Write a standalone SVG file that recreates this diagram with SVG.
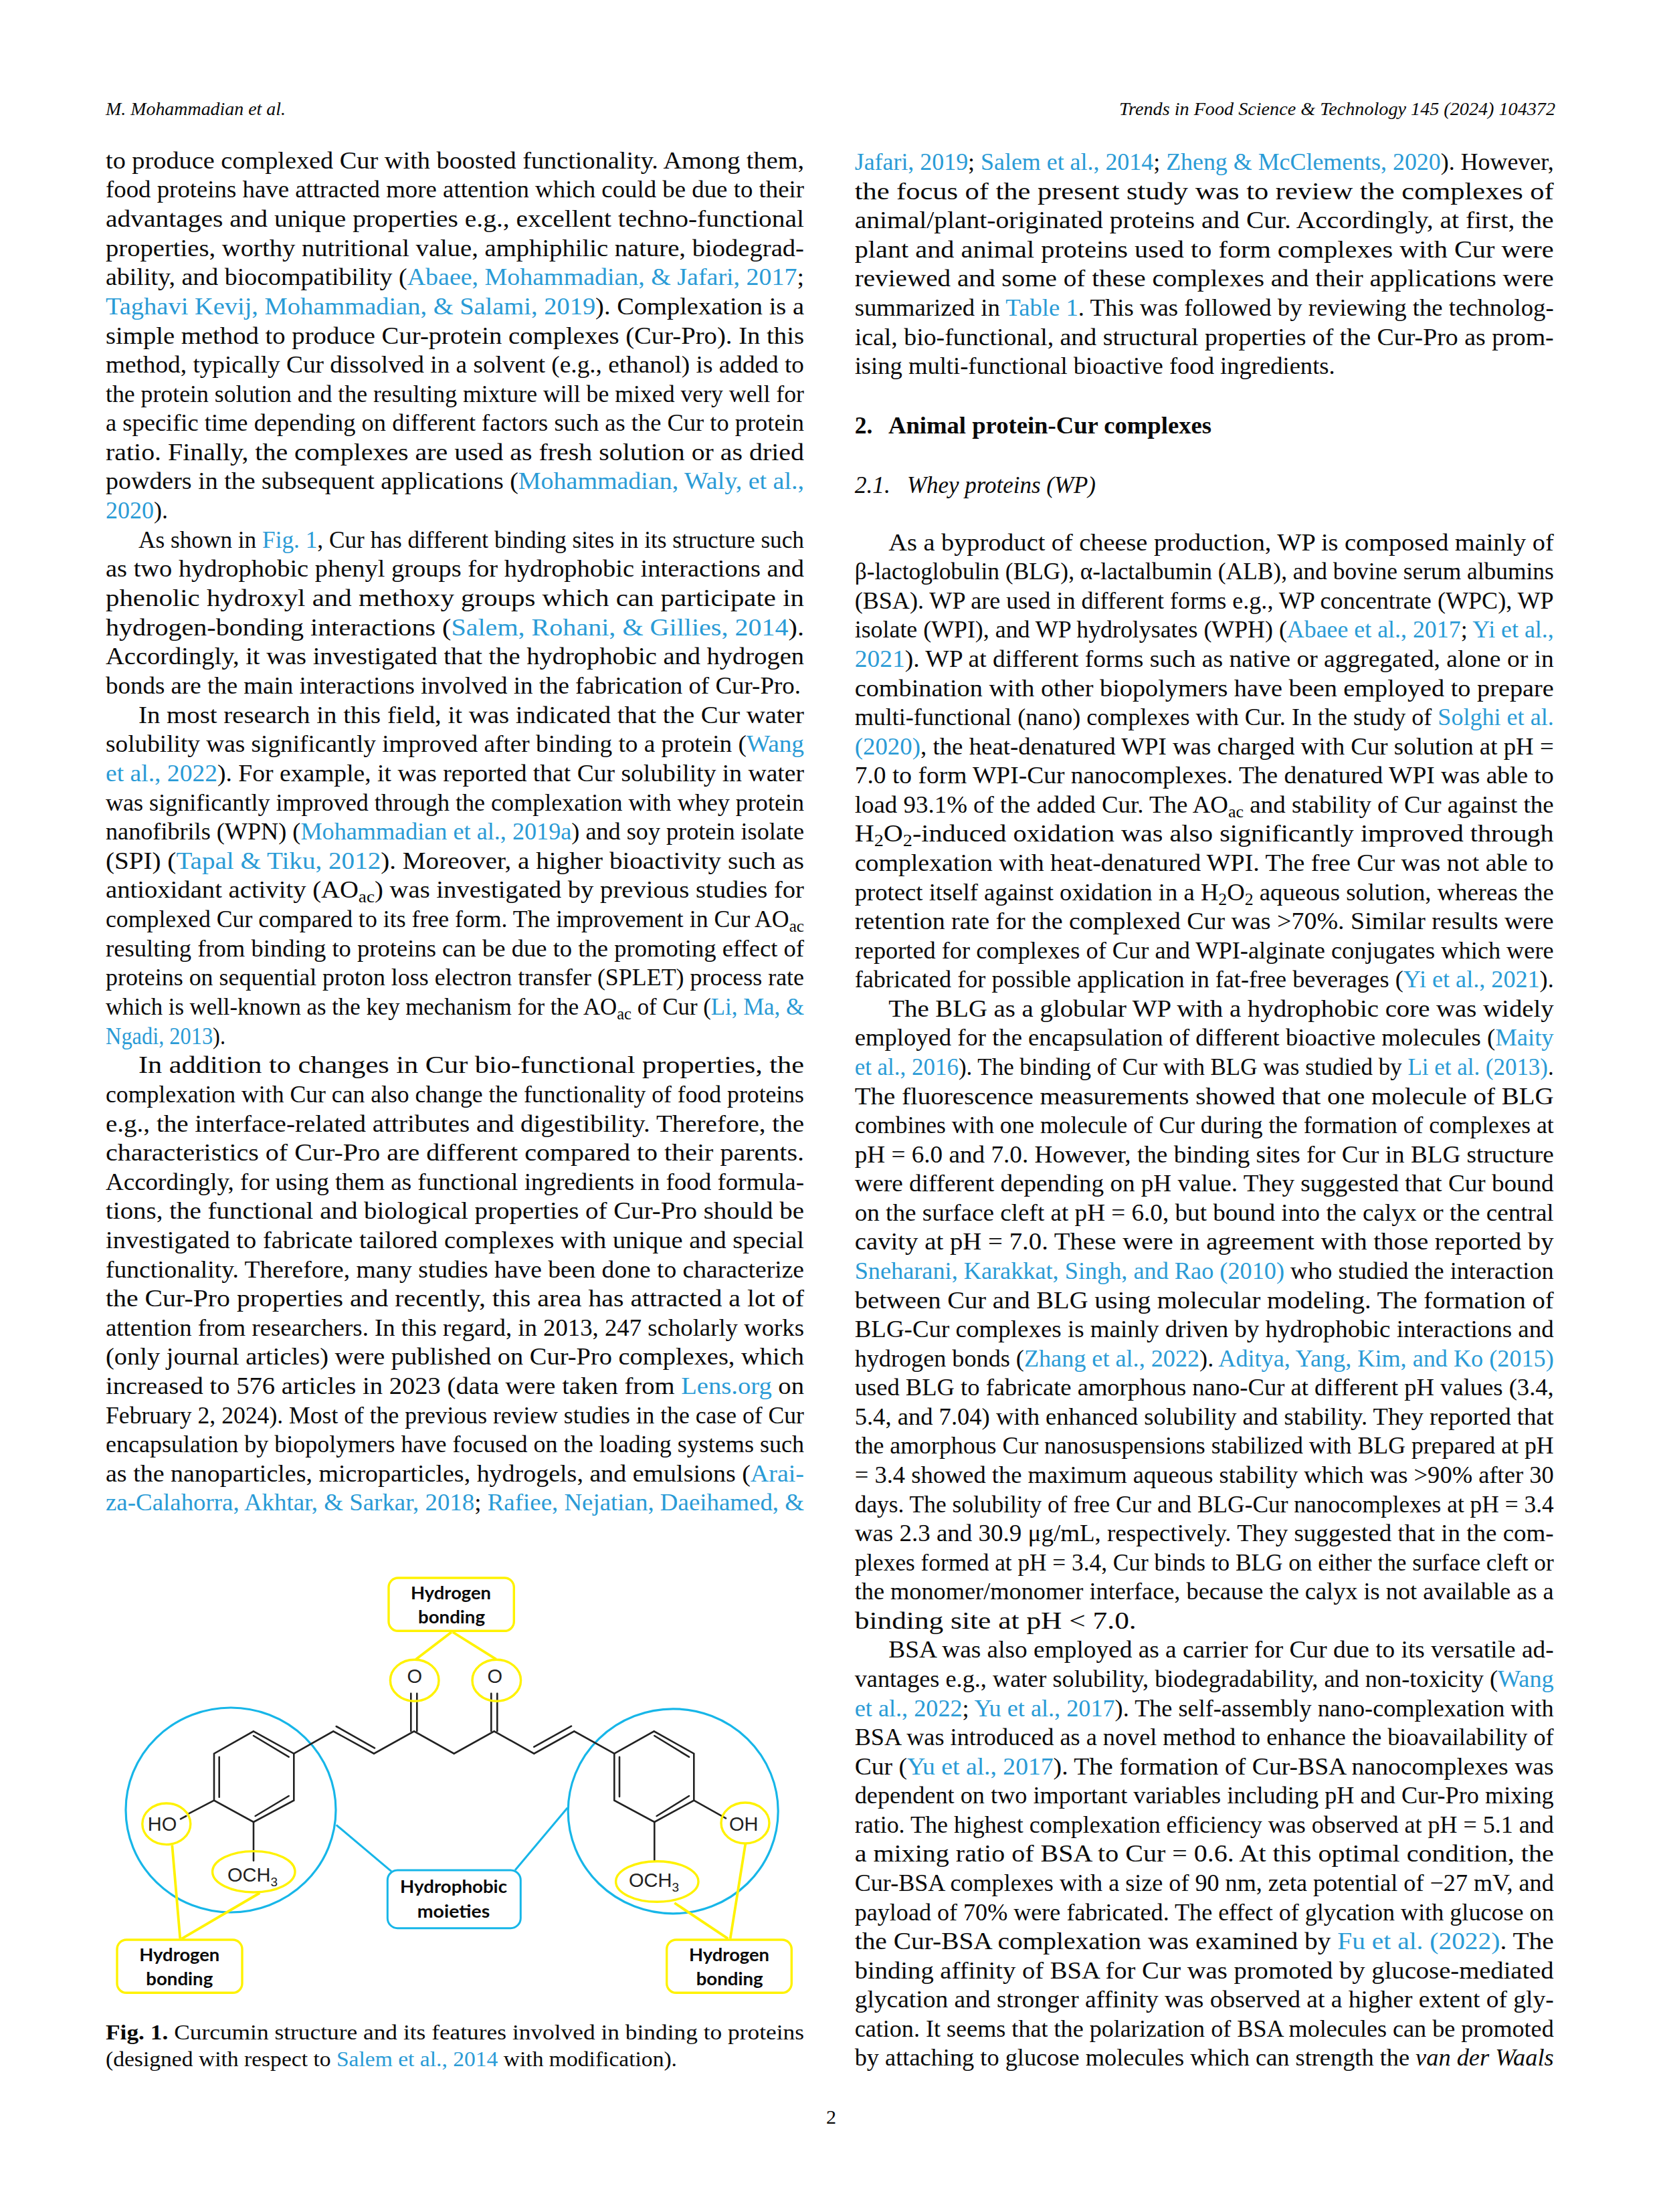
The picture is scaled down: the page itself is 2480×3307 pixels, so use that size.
<svg xmlns="http://www.w3.org/2000/svg" width="2480" height="3307" viewBox="0 0 2480 3307">
<style>
text{font-family:"Liberation Serif",serif;fill:#0a0a0a}
.b{font-size:35.5px}
.c{font-size:32.5px}
.h{font-size:27.5px;font-style:italic}
.l{fill:#2a9bd6}
.s{font-size:25px;baseline-shift:-7px}
.bond{stroke:#222;stroke-width:2.6;fill:none;stroke-linecap:round}
.blue{stroke:#17b6e8;stroke-width:3.2;fill:none}
.yel{stroke:#fff200;stroke-width:3.4;fill:none}
.ylink{stroke:#fff200;stroke-width:3.8;fill:none}
.blink{stroke:#17b6e8;stroke-width:3;fill:none}
.chem{font-family:"Liberation Sans",sans-serif;font-size:29px;fill:#222}
.chem3{font-family:"Liberation Sans",sans-serif;font-size:19px;fill:#222}
.lab{font-family:Lato,"Liberation Sans",sans-serif;font-size:27px;font-weight:700;fill:#0a0a0a}
</style>
<rect width="2480" height="3307" fill="#fff"/>
<g id="page-header">
<text class="h" x="158" y="172" textLength="269" lengthAdjust="spacingAndGlyphs">M. Mohammadian et al.</text>
<text class="h" x="1673" y="172" textLength="652" lengthAdjust="spacingAndGlyphs">Trends in Food Science &amp; Technology 145 (2024) 104372</text>
</g>
<g id="left-column" class="b">
<text x="158" y="251.7" textLength="1044" lengthAdjust="spacingAndGlyphs">to produce complexed Cur with boosted functionality. Among them,</text>
<text x="158" y="295.3" textLength="1044" lengthAdjust="spacingAndGlyphs">food proteins have attracted more attention which could be due to their</text>
<text x="158" y="339" textLength="1044" lengthAdjust="spacingAndGlyphs">advantages and unique properties e.g., excellent techno-functional</text>
<text x="158" y="382.6" textLength="1044" lengthAdjust="spacingAndGlyphs">properties, worthy nutritional value, amphiphilic nature, biodegrad-</text>
<text x="158" y="426.3" textLength="1044" lengthAdjust="spacingAndGlyphs">ability, and biocompatibility (<tspan class="l">Abaee, Mohammadian, &amp; Jafari, 2017</tspan>;</text>
<text x="158" y="469.9" textLength="1044" lengthAdjust="spacingAndGlyphs"><tspan class="l">Taghavi Kevij, Mohammadian, &amp; Salami, 2019</tspan>). Complexation is a</text>
<text x="158" y="513.5" textLength="1044" lengthAdjust="spacingAndGlyphs">simple method to produce Cur-protein complexes (Cur-Pro). In this</text>
<text x="158" y="557.2" textLength="1044" lengthAdjust="spacingAndGlyphs">method, typically Cur dissolved in a solvent (e.g., ethanol) is added to</text>
<text x="158" y="600.5" textLength="1044" lengthAdjust="spacingAndGlyphs">the protein solution and the resulting mixture will be mixed very well for</text>
<text x="158" y="644.2" textLength="1044" lengthAdjust="spacingAndGlyphs">a specific time depending on different factors such as the Cur to protein</text>
<text x="158" y="687.8" textLength="1044" lengthAdjust="spacingAndGlyphs">ratio. Finally, the complexes are used as fresh solution or as dried</text>
<text x="158" y="731.4" textLength="1044" lengthAdjust="spacingAndGlyphs">powders in the subsequent applications (<tspan class="l">Mohammadian, Waly, et al.,</tspan></text>
<text x="158" y="775.1" textLength="93" lengthAdjust="spacingAndGlyphs"><tspan class="l">2020</tspan>).</text>
<text x="207" y="818.7" textLength="995" lengthAdjust="spacingAndGlyphs">As shown in <tspan class="l">Fig. 1</tspan>, Cur has different binding sites in its structure such</text>
<text x="158" y="862.4" textLength="1044" lengthAdjust="spacingAndGlyphs">as two hydrophobic phenyl groups for hydrophobic interactions and</text>
<text x="158" y="906" textLength="1044" lengthAdjust="spacingAndGlyphs">phenolic hydroxyl and methoxy groups which can participate in</text>
<text x="158" y="949.6" textLength="1044" lengthAdjust="spacingAndGlyphs">hydrogen-bonding interactions (<tspan class="l">Salem, Rohani, &amp; Gillies, 2014</tspan>).</text>
<text x="158" y="993.3" textLength="1044" lengthAdjust="spacingAndGlyphs">Accordingly, it was investigated that the hydrophobic and hydrogen</text>
<text x="158" y="1036.9" textLength="1039" lengthAdjust="spacingAndGlyphs">bonds are the main interactions involved in the fabrication of Cur-Pro.</text>
<text x="207" y="1080.6" textLength="995" lengthAdjust="spacingAndGlyphs">In most research in this field, it was indicated that the Cur water</text>
<text x="158" y="1124.2" textLength="1044" lengthAdjust="spacingAndGlyphs">solubility was significantly improved after binding to a protein (<tspan class="l">Wang</tspan></text>
<text x="158" y="1167.8" textLength="1044" lengthAdjust="spacingAndGlyphs"><tspan class="l">et al., 2022</tspan>). For example, it was reported that Cur solubility in water</text>
<text x="158" y="1211.5" textLength="1044" lengthAdjust="spacingAndGlyphs">was significantly improved through the complexation with whey protein</text>
<text x="158" y="1255.1" textLength="1044" lengthAdjust="spacingAndGlyphs">nanofibrils (WPN) (<tspan class="l">Mohammadian et al., 2019a</tspan>) and soy protein isolate</text>
<text x="158" y="1298.8" textLength="1044" lengthAdjust="spacingAndGlyphs">(SPI) (<tspan class="l">Tapal &amp; Tiku, 2012</tspan>). Moreover, a higher bioactivity such as</text>
<text x="158" y="1342.4" textLength="1044" lengthAdjust="spacingAndGlyphs">antioxidant activity (AO<tspan class="s">ac</tspan>) was investigated by previous studies for</text>
<text x="158" y="1386" textLength="1044" lengthAdjust="spacingAndGlyphs">complexed Cur compared to its free form. The improvement in Cur AO<tspan class="s">ac</tspan></text>
<text x="158" y="1429.7" textLength="1044" lengthAdjust="spacingAndGlyphs">resulting from binding to proteins can be due to the promoting effect of</text>
<text x="158" y="1473.3" textLength="1044" lengthAdjust="spacingAndGlyphs">proteins on sequential proton loss electron transfer (SPLET) process rate</text>
<text x="158" y="1517" textLength="1044" lengthAdjust="spacingAndGlyphs">which is well-known as the key mechanism for the AO<tspan class="s">ac</tspan> of Cur (<tspan class="l">Li, Ma, &amp;</tspan></text>
<text x="158" y="1560.6" textLength="179" lengthAdjust="spacingAndGlyphs"><tspan class="l">Ngadi, 2013</tspan>).</text>
<text x="207" y="1604.2" textLength="995" lengthAdjust="spacingAndGlyphs">In addition to changes in Cur bio-functional properties, the</text>
<text x="158" y="1647.9" textLength="1044" lengthAdjust="spacingAndGlyphs">complexation with Cur can also change the functionality of food proteins</text>
<text x="158" y="1691.5" textLength="1044" lengthAdjust="spacingAndGlyphs">e.g., the interface-related attributes and digestibility. Therefore, the</text>
<text x="158" y="1735.2" textLength="1044" lengthAdjust="spacingAndGlyphs">characteristics of Cur-Pro are different compared to their parents.</text>
<text x="158" y="1778.8" textLength="1044" lengthAdjust="spacingAndGlyphs">Accordingly, for using them as functional ingredients in food formula-</text>
<text x="158" y="1822.4" textLength="1044" lengthAdjust="spacingAndGlyphs">tions, the functional and biological properties of Cur-Pro should be</text>
<text x="158" y="1866.1" textLength="1044" lengthAdjust="spacingAndGlyphs">investigated to fabricate tailored complexes with unique and special</text>
<text x="158" y="1909.7" textLength="1044" lengthAdjust="spacingAndGlyphs">functionality. Therefore, many studies have been done to characterize</text>
<text x="158" y="1953.4" textLength="1044" lengthAdjust="spacingAndGlyphs">the Cur-Pro properties and recently, this area has attracted a lot of</text>
<text x="158" y="1997" textLength="1044" lengthAdjust="spacingAndGlyphs">attention from researchers. In this regard, in 2013, 247 scholarly works</text>
<text x="158" y="2040.2" textLength="1044" lengthAdjust="spacingAndGlyphs">(only journal articles) were published on Cur-Pro complexes, which</text>
<text x="158" y="2083.9" textLength="1044" lengthAdjust="spacingAndGlyphs">increased to 576 articles in 2023 (data were taken from <tspan class="l">Lens.org</tspan> on</text>
<text x="158" y="2127.6" textLength="1044" lengthAdjust="spacingAndGlyphs">February 2, 2024). Most of the previous review studies in the case of Cur</text>
<text x="158" y="2171.2" textLength="1044" lengthAdjust="spacingAndGlyphs">encapsulation by biopolymers have focused on the loading systems such</text>
<text x="158" y="2214.9" textLength="1044" lengthAdjust="spacingAndGlyphs">as the nanoparticles, microparticles, hydrogels, and emulsions (<tspan class="l">Arai-</tspan></text>
<text x="158" y="2258.4" textLength="1044" lengthAdjust="spacingAndGlyphs"><tspan class="l">za-Calahorra, Akhtar, &amp; Sarkar, 2018</tspan>; <tspan class="l">Rafiee, Nejatian, Daeihamed, &amp;</tspan></text>
</g>
<g id="right-column" class="b">
<text x="1277.7" y="254" textLength="1045" lengthAdjust="spacingAndGlyphs"><tspan class="l">Jafari, 2019</tspan>; <tspan class="l">Salem et al., 2014</tspan>; <tspan class="l">Zheng &amp; McClements, 2020</tspan>). However,</text>
<text x="1277.7" y="297.6" textLength="1045" lengthAdjust="spacingAndGlyphs">the focus of the present study was to review the complexes of</text>
<text x="1277.7" y="341.2" textLength="1045" lengthAdjust="spacingAndGlyphs">animal/plant-originated proteins and Cur. Accordingly, at first, the</text>
<text x="1277.7" y="384.8" textLength="1045" lengthAdjust="spacingAndGlyphs">plant and animal proteins used to form complexes with Cur were</text>
<text x="1277.7" y="428.4" textLength="1045" lengthAdjust="spacingAndGlyphs">reviewed and some of these complexes and their applications were</text>
<text x="1277.7" y="472" textLength="1045" lengthAdjust="spacingAndGlyphs">summarized in <tspan class="l">Table 1</tspan>. This was followed by reviewing the technolog-</text>
<text x="1277.7" y="515.6" textLength="1045" lengthAdjust="spacingAndGlyphs">ical, bio-functional, and structural properties of the Cur-Pro as prom-</text>
<text x="1277.7" y="559.3" textLength="718" lengthAdjust="spacingAndGlyphs">ising multi-functional bioactive food ingredients.</text>
<text x="1277.7" y="647.7" font-weight="700">2. <tspan x="1328" textLength="483" lengthAdjust="spacingAndGlyphs">Animal protein-Cur complexes</tspan></text>
<text x="1277.7" y="736.7" font-style="italic">2.1. <tspan x="1356" textLength="282" lengthAdjust="spacingAndGlyphs">Whey proteins (WP)</tspan></text>
<text x="1328.3" y="822.7" textLength="994.4" lengthAdjust="spacingAndGlyphs">As a byproduct of cheese production, WP is composed mainly of</text>
<text x="1277.7" y="866.3" textLength="1045" lengthAdjust="spacingAndGlyphs">β-lactoglobulin (BLG), α-lactalbumin (ALB), and bovine serum albumins</text>
<text x="1277.7" y="909.8" textLength="1045" lengthAdjust="spacingAndGlyphs">(BSA). WP are used in different forms e.g., WP concentrate (WPC), WP</text>
<text x="1277.7" y="953.4" textLength="1045" lengthAdjust="spacingAndGlyphs">isolate (WPI), and WP hydrolysates (WPH) (<tspan class="l">Abaee et al., 2017</tspan>; <tspan class="l">Yi et al.,</tspan></text>
<text x="1277.7" y="997" textLength="1045" lengthAdjust="spacingAndGlyphs"><tspan class="l">2021</tspan>). WP at different forms such as native or aggregated, alone or in</text>
<text x="1277.7" y="1040.6" textLength="1045" lengthAdjust="spacingAndGlyphs">combination with other biopolymers have been employed to prepare</text>
<text x="1277.7" y="1084.1" textLength="1045" lengthAdjust="spacingAndGlyphs">multi-functional (nano) complexes with Cur. In the study of <tspan class="l">Solghi et al.</tspan></text>
<text x="1277.7" y="1127.7" textLength="1045" lengthAdjust="spacingAndGlyphs"><tspan class="l">(2020)</tspan>, the heat-denatured WPI was charged with Cur solution at pH =</text>
<text x="1277.7" y="1171.3" textLength="1045" lengthAdjust="spacingAndGlyphs">7.0 to form WPI-Cur nanocomplexes. The denatured WPI was able to</text>
<text x="1277.7" y="1214.8" textLength="1045" lengthAdjust="spacingAndGlyphs">load 93.1% of the added Cur. The AO<tspan class="s">ac</tspan> and stability of Cur against the</text>
<text x="1277.7" y="1258.4" textLength="1045" lengthAdjust="spacingAndGlyphs">H<tspan class="s">2</tspan>O<tspan class="s">2</tspan>-induced oxidation was also significantly improved through</text>
<text x="1277.7" y="1302" textLength="1045" lengthAdjust="spacingAndGlyphs">complexation with heat-denatured WPI. The free Cur was not able to</text>
<text x="1277.7" y="1345.5" textLength="1045" lengthAdjust="spacingAndGlyphs">protect itself against oxidation in a H<tspan class="s">2</tspan>O<tspan class="s">2</tspan> aqueous solution, whereas the</text>
<text x="1277.7" y="1389.1" textLength="1045" lengthAdjust="spacingAndGlyphs">retention rate for the complexed Cur was &gt;70%. Similar results were</text>
<text x="1277.7" y="1432.7" textLength="1045" lengthAdjust="spacingAndGlyphs">reported for complexes of Cur and WPI-alginate conjugates which were</text>
<text x="1277.7" y="1476.3" textLength="1045" lengthAdjust="spacingAndGlyphs">fabricated for possible application in fat-free beverages (<tspan class="l">Yi et al., 2021</tspan>).</text>
<text x="1328.3" y="1519.8" textLength="994.4" lengthAdjust="spacingAndGlyphs">The BLG as a globular WP with a hydrophobic core was widely</text>
<text x="1277.7" y="1563.4" textLength="1045" lengthAdjust="spacingAndGlyphs">employed for the encapsulation of different bioactive molecules (<tspan class="l">Maity</tspan></text>
<text x="1277.7" y="1607" textLength="1045" lengthAdjust="spacingAndGlyphs"><tspan class="l">et al., 2016</tspan>). The binding of Cur with BLG was studied by <tspan class="l">Li et al. (2013)</tspan>.</text>
<text x="1277.7" y="1650.5" textLength="1045" lengthAdjust="spacingAndGlyphs">The fluorescence measurements showed that one molecule of BLG</text>
<text x="1277.7" y="1694.1" textLength="1045" lengthAdjust="spacingAndGlyphs">combines with one molecule of Cur during the formation of complexes at</text>
<text x="1277.7" y="1737.7" textLength="1045" lengthAdjust="spacingAndGlyphs">pH = 6.0 and 7.0. However, the binding sites for Cur in BLG structure</text>
<text x="1277.7" y="1781.3" textLength="1045" lengthAdjust="spacingAndGlyphs">were different depending on pH value. They suggested that Cur bound</text>
<text x="1277.7" y="1824.8" textLength="1045" lengthAdjust="spacingAndGlyphs">on the surface cleft at pH = 6.0, but bound into the calyx or the central</text>
<text x="1277.7" y="1868.4" textLength="1045" lengthAdjust="spacingAndGlyphs">cavity at pH = 7.0. These were in agreement with those reported by</text>
<text x="1277.7" y="1912" textLength="1045" lengthAdjust="spacingAndGlyphs"><tspan class="l">Sneharani, Karakkat, Singh, and Rao (2010)</tspan> who studied the interaction</text>
<text x="1277.7" y="1955.5" textLength="1045" lengthAdjust="spacingAndGlyphs">between Cur and BLG using molecular modeling. The formation of</text>
<text x="1277.7" y="1999.1" textLength="1045" lengthAdjust="spacingAndGlyphs">BLG-Cur complexes is mainly driven by hydrophobic interactions and</text>
<text x="1277.7" y="2042.7" textLength="1045" lengthAdjust="spacingAndGlyphs">hydrogen bonds (<tspan class="l">Zhang et al., 2022</tspan>). <tspan class="l">Aditya, Yang, Kim, and Ko (2015)</tspan></text>
<text x="1277.7" y="2086.3" textLength="1045" lengthAdjust="spacingAndGlyphs">used BLG to fabricate amorphous nano-Cur at different pH values (3.4,</text>
<text x="1277.7" y="2129.8" textLength="1045" lengthAdjust="spacingAndGlyphs">5.4, and 7.04) with enhanced solubility and stability. They reported that</text>
<text x="1277.7" y="2173.4" textLength="1045" lengthAdjust="spacingAndGlyphs">the amorphous Cur nanosuspensions stabilized with BLG prepared at pH</text>
<text x="1277.7" y="2217" textLength="1045" lengthAdjust="spacingAndGlyphs">= 3.4 showed the maximum aqueous stability which was &gt;90% after 30</text>
<text x="1277.7" y="2260.5" textLength="1045" lengthAdjust="spacingAndGlyphs">days. The solubility of free Cur and BLG-Cur nanocomplexes at pH = 3.4</text>
<text x="1277.7" y="2304.1" textLength="1045" lengthAdjust="spacingAndGlyphs">was 2.3 and 30.9 μg/mL, respectively. They suggested that in the com-</text>
<text x="1277.7" y="2347.7" textLength="1045" lengthAdjust="spacingAndGlyphs">plexes formed at pH = 3.4, Cur binds to BLG on either the surface cleft or</text>
<text x="1277.7" y="2391.2" textLength="1045" lengthAdjust="spacingAndGlyphs">the monomer/monomer interface, because the calyx is not available as a</text>
<text x="1277.7" y="2434.8" textLength="421" lengthAdjust="spacingAndGlyphs">binding site at pH &lt; 7.0.</text>
<text x="1328.3" y="2478.4" textLength="994.4" lengthAdjust="spacingAndGlyphs">BSA was also employed as a carrier for Cur due to its versatile ad-</text>
<text x="1277.7" y="2522" textLength="1045" lengthAdjust="spacingAndGlyphs">vantages e.g., water solubility, biodegradability, and non-toxicity (<tspan class="l">Wang</tspan></text>
<text x="1277.7" y="2565.5" textLength="1045" lengthAdjust="spacingAndGlyphs"><tspan class="l">et al., 2022</tspan>; <tspan class="l">Yu et al., 2017</tspan>). The self-assembly nano-complexation with</text>
<text x="1277.7" y="2609.1" textLength="1045" lengthAdjust="spacingAndGlyphs">BSA was introduced as a novel method to enhance the bioavailability of</text>
<text x="1277.7" y="2652.7" textLength="1045" lengthAdjust="spacingAndGlyphs">Cur (<tspan class="l">Yu et al., 2017</tspan>). The formation of Cur-BSA nanocomplexes was</text>
<text x="1277.7" y="2696.2" textLength="1045" lengthAdjust="spacingAndGlyphs">dependent on two important variables including pH and Cur-Pro mixing</text>
<text x="1277.7" y="2739.8" textLength="1045" lengthAdjust="spacingAndGlyphs">ratio. The highest complexation efficiency was observed at pH = 5.1 and</text>
<text x="1277.7" y="2783.4" textLength="1045" lengthAdjust="spacingAndGlyphs">a mixing ratio of BSA to Cur = 0.6. At this optimal condition, the</text>
<text x="1277.7" y="2827" textLength="1045" lengthAdjust="spacingAndGlyphs">Cur-BSA complexes with a size of 90 nm, zeta potential of −27 mV, and</text>
<text x="1277.7" y="2870.5" textLength="1045" lengthAdjust="spacingAndGlyphs">payload of 70% were fabricated. The effect of glycation with glucose on</text>
<text x="1277.7" y="2914.1" textLength="1045" lengthAdjust="spacingAndGlyphs">the Cur-BSA complexation was examined by <tspan class="l">Fu et al. (2022)</tspan>. The</text>
<text x="1277.7" y="2957.7" textLength="1045" lengthAdjust="spacingAndGlyphs">binding affinity of BSA for Cur was promoted by glucose-mediated</text>
<text x="1277.7" y="3001.2" textLength="1045" lengthAdjust="spacingAndGlyphs">glycation and stronger affinity was observed at a higher extent of gly-</text>
<text x="1277.7" y="3044.8" textLength="1045" lengthAdjust="spacingAndGlyphs">cation. It seems that the polarization of BSA molecules can be promoted</text>
<text x="1277.7" y="3088.4" textLength="1045" lengthAdjust="spacingAndGlyphs">by attaching to glucose molecules which can strength the <tspan font-style="italic">van der Waals</tspan></text>
</g>
<g id="structure">
<ellipse class="blue" cx="345" cy="2706" rx="157" ry="153"/>
<ellipse class="blue" cx="1006.2" cy="2707.8" rx="157" ry="153"/>
<path class="bond" d="M379 2588.3L439.3 2621.7V2691.7L379 2724L320 2691.7V2621.7Z"/>
<path class="bond" d="M379 2595L431.7 2626.7M431.7 2685L381.7 2715M327.7 2626.7V2686.7"/>
<path class="bond" d="M918.3 2621.7L977.7 2588.3L1037.3 2621.7V2691.7L978.3 2724L918.3 2691.7Z"/>
<path class="bond" d="M978.3 2595L1030 2626.7M1030 2685L981.7 2715M926 2626.7V2686"/>
<path class="bond" d="M439.3 2621.7L498.3 2588.3L559 2621.7L619 2588.3L678.7 2621.7L738.7 2588.3L798.3 2621.7L858.3 2588.3L918.3 2621.7"/>
<path class="bond" d="M502.7 2581L560 2613.3M798.3 2611.7L854 2580.7"/>
<path class="bond" d="M614.3 2531.7V2588M623.3 2531.7V2588M734.3 2531.7V2588M743.3 2531.7V2588"/>
<path class="bond" d="M320 2691.7L281.7 2711.7M278.3 2715L270 2719.3M379 2724V2781.7M1037.3 2691.7L1085 2718.3M978.3 2724V2781.7"/>
</g>
<g id="connectors">
<path class="ylink" d="M675 2440L621.7 2480.7M676.7 2440L741.7 2480.7"/>
<path class="ylink" d="M257.3 2758.3L269.3 2898.3M388.3 2830L271.7 2898.3"/>
<path class="ylink" d="M1114.3 2756.7L1091.7 2898.3M1008.3 2845L1088.3 2898.3"/>
<path class="blink" d="M502.7 2728.3L585 2797.7M848.3 2702.7L770 2796"/>
</g>
<g id="group-O-left"><ellipse class="yel" cx="619.7" cy="2512.2" rx="36.3" ry="31"/><text class="chem" x="619.7" y="2515.7" text-anchor="middle">O</text></g>
<g id="group-O-right"><ellipse class="yel" cx="742.3" cy="2512.2" rx="36.3" ry="31"/><text class="chem" x="739.7" y="2515.7" text-anchor="middle">O</text></g>
<g id="group-HO"><ellipse class="yel" cx="248.8" cy="2726.8" rx="36" ry="30.8"/><text class="chem" x="242.5" y="2736.7" text-anchor="middle">HO</text></g>
<g id="group-OCH3-left"><ellipse class="yel" cx="379.3" cy="2798.3" rx="61.7" ry="30.7"/><text class="chem" x="340" y="2812.7">OCH<tspan class="chem3" dy="7">3</tspan></text></g>
<g id="group-OH"><ellipse class="yel" cx="1114" cy="2725.5" rx="36" ry="30.5"/><text class="chem" x="1111.7" y="2736.7" text-anchor="middle">OH</text></g>
<g id="group-OCH3-right"><ellipse class="yel" cx="982.3" cy="2813" rx="61.7" ry="30.3"/><text class="chem" x="940" y="2820.7">OCH<tspan class="chem3" dy="7">3</tspan></text></g>
<g id="hydrogen-bonding-top"><rect class="yel" x="581" y="2359" width="187.3" height="79.3" rx="14"/><text class="lab" x="674" y="2390.7" text-anchor="middle" textLength="120" lengthAdjust="spacingAndGlyphs">Hydrogen</text><text class="lab" x="675" y="2426.7" text-anchor="middle" textLength="100" lengthAdjust="spacingAndGlyphs">bonding</text></g>
<g id="hydrogen-bonding-left"><rect class="yel" x="175" y="2900" width="187" height="79.3" rx="14"/><text class="lab" x="268.3" y="2931.7" text-anchor="middle" textLength="120" lengthAdjust="spacingAndGlyphs">Hydrogen</text><text class="lab" x="268.3" y="2967.7" text-anchor="middle" textLength="100" lengthAdjust="spacingAndGlyphs">bonding</text></g>
<g id="hydrogen-bonding-right"><rect class="yel" x="996.7" y="2900" width="186.6" height="79.3" rx="14"/><text class="lab" x="1090" y="2931.7" text-anchor="middle" textLength="120" lengthAdjust="spacingAndGlyphs">Hydrogen</text><text class="lab" x="1090.7" y="2967.7" text-anchor="middle" textLength="100" lengthAdjust="spacingAndGlyphs">bonding</text></g>
<g id="hydrophobic-moieties"><rect class="blink" x="579.3" y="2796" width="199" height="86.7" rx="15"/><text class="lab" x="678" y="2830" text-anchor="middle" textLength="160" lengthAdjust="spacingAndGlyphs">Hydrophobic</text><text class="lab" x="678" y="2866.7" text-anchor="middle" textLength="108.6" lengthAdjust="spacingAndGlyphs">moieties</text></g>
<g id="caption" class="c">
<text x="158" y="3049" textLength="1044" lengthAdjust="spacingAndGlyphs"><tspan font-weight="700">Fig. 1.</tspan> Curcumin structure and its features involved in binding to proteins</text>
<text x="158" y="3089" textLength="854" lengthAdjust="spacingAndGlyphs">(designed with respect to <tspan class="l">Salem et al., 2014</tspan> with modification).</text>
</g>
<text id="page-number" x="1235" y="3175" font-size="30">2</text>
</svg>
